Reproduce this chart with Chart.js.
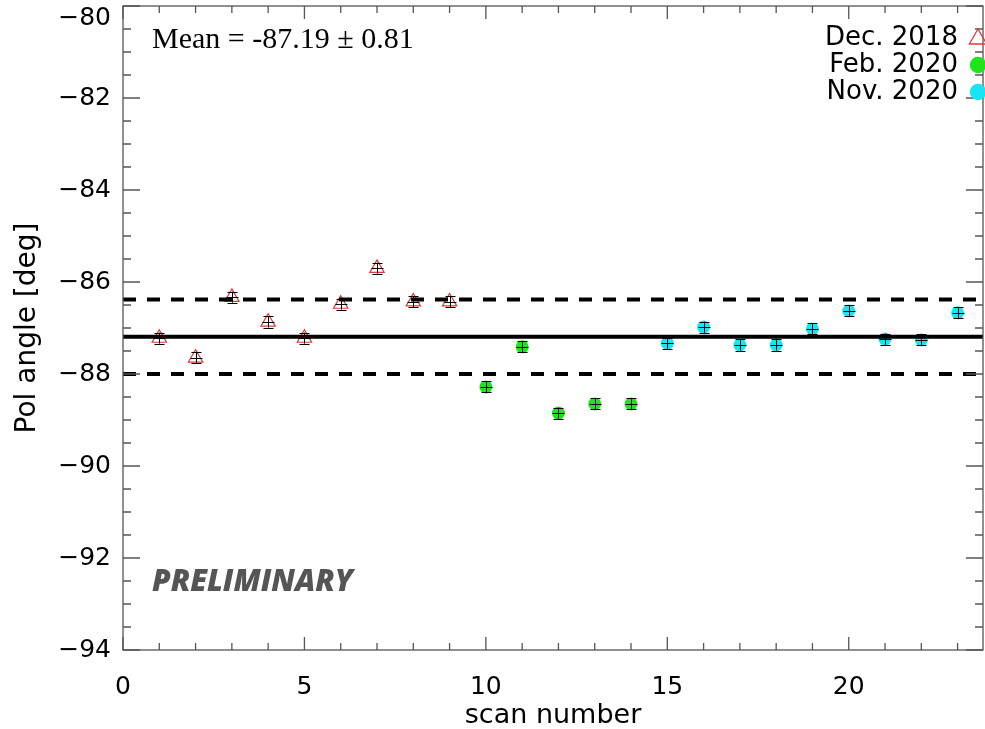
<!DOCTYPE html>
<html><head><meta charset="utf-8">
<script src="https://cdn.jsdelivr.net/npm/chart.js@4"></script>
<style>html,body{margin:0;padding:0;background:#fff}#wrap{width:985px;height:729px}</style>
</head><body><div id="wrap"><canvas id="c" width="985" height="729"></canvas></div>
<script>
// ---- data ----
const DEC_X = [1, 2, 3, 4, 5, 6, 7, 8, 9];
const DEC_Y = [-87.22, -87.65, -86.33, -86.87, -87.22, -86.48, -85.70, -86.43, -86.43];
const DEC_ERR = [0.12, 0.12, 0.12, 0.12, 0.12, 0.12, 0.12, 0.12, 0.12];
const FEB_X = [10, 11, 12, 13, 14];
const FEB_Y = [-88.28, -87.41, -88.85, -88.65, -88.65];
const FEB_ERR = [0.12, 0.12, 0.12, 0.12, 0.12];
const NOV_X = [15, 16, 17, 18, 19, 20, 21, 22, 23];
const NOV_Y = [-87.33, -86.98, -87.37, -87.37, -87.02, -86.63, -87.24, -87.26, -86.67];
const NOV_ERR = [0.12, 0.12, 0.12, 0.12, 0.12, 0.12, 0.12, 0.12, 0.12];
const SERIES_LABELS = ['Dec. 2018', 'Feb. 2020', 'Nov. 2020'];
const MEAN = -87.19;
const SIGMA = 0.81;
const MEAN_TEXT = 'Mean = -87.19 \u00B1 0.81';
const STAMP_TEXT = 'PRELIMINARY';
const X_TITLE = 'scan number';
const Y_TITLE = 'Pol angle [deg]';
const X_RANGE = [0, 23.7];
const Y_RANGE = [-94, -80];
const X_TICK_STEP = 5, X_MINOR_STEP = 1;
const Y_TICK_STEP = 2, Y_MINOR_STEP = 0.5;

const COLORS = { dec: '#e23a3a', feb: '#1ee41a', nov: '#17e5f6', axis: '#555555' };
const TICK_FONT = '25px "DejaVu Sans", sans-serif';

function pts(xs, ys) { return xs.map((x, i) => ({ x: x, y: ys[i] })); }
function fmtY(v) { return (v < 0 ? '\u2212' : '') + Math.abs(v); }

const frameTicks = {
  id: 'frameTicks',
  afterDatasetsDraw(chart) {
    const { ctx, chartArea: a, scales: { x, y } } = chart;
    ctx.save();
    ctx.strokeStyle = COLORS.axis;
    ctx.lineWidth = 1.3;
    ctx.strokeRect(a.left, a.top, a.right - a.left, a.bottom - a.top);
    ctx.beginPath();
    for (let v = X_RANGE[0]; v <= X_RANGE[1] + 1e-9; v += X_MINOR_STEP) {
      const px = x.getPixelForValue(v);
      const len = (Math.abs(v % X_TICK_STEP) < 1e-9) ? 13 : 7;
      ctx.moveTo(px, a.bottom); ctx.lineTo(px, a.bottom - len);
      ctx.moveTo(px, a.top); ctx.lineTo(px, a.top + len);
    }
    for (let v = Y_RANGE[0]; v <= Y_RANGE[1] + 1e-9; v += Y_MINOR_STEP) {
      const py = y.getPixelForValue(v);
      const len = (Math.abs(v % Y_TICK_STEP) < 1e-9) ? 17 : 8;
      ctx.moveTo(a.left, py); ctx.lineTo(a.left + len, py);
      ctx.moveTo(a.right, py); ctx.lineTo(a.right - len, py);
    }
    ctx.stroke();
    // the top y tick label is pushed down so it stays inside the picture
    const topTick = y.ticks.find(t => Math.abs(t.value - Y_RANGE[1]) < 1e-9);
    if (topTick) {
      ctx.fillStyle = '#000';
      ctx.font = TICK_FONT;
      ctx.textAlign = 'right';
      ctx.textBaseline = 'middle';
      ctx.fillText(fmtY(topTick.value), a.left - 12, Math.max(y.getPixelForValue(topTick.value), 18));
    }
    ctx.restore();
  }
};

const errorBars = {
  id: 'errorBars',
  afterDatasetsDraw(chart) {
    const { ctx, scales: { y } } = chart;
    ctx.save();
    ctx.strokeStyle = '#000';
    ctx.lineWidth = 1;
    chart.data.datasets.forEach((ds, i) => {
      if (!ds.err) return;
      const meta = chart.getDatasetMeta(i);
      meta.data.forEach((el, j) => {
        const v = ds.data[j].y, e = ds.err[j];
        const y1 = y.getPixelForValue(v + e), y2 = y.getPixelForValue(v - e);
        const px = Math.round(el.x) + 0.5;
        ctx.beginPath();
        ctx.moveTo(px, y1); ctx.lineTo(px, y2);
        ctx.moveTo(px - 5, Math.round(y1) + 0.5); ctx.lineTo(px + 5, Math.round(y1) + 0.5);
        ctx.moveTo(px - 5, Math.round(y2) + 0.5); ctx.lineTo(px + 5, Math.round(y2) + 0.5);
        ctx.moveTo(px - 6, Math.round(el.y) + 0.5); ctx.lineTo(px + 6, Math.round(el.y) + 0.5);
        ctx.stroke();
      });
    });
    ctx.restore();
  }
};

const annotations = {
  id: 'annotations',
  afterDraw(chart) {
    const { ctx, chartArea: a } = chart;
    ctx.save();
    ctx.fillStyle = '#000';
    ctx.textAlign = 'left';
    ctx.textBaseline = 'alphabetic';
    ctx.font = '30px "Liberation Serif", serif';
    ctx.fillText(MEAN_TEXT, a.left + 29, 48);

    ctx.fillStyle = '#555';
    ctx.font = 'italic 800 30px "Open Sans", sans-serif';
    ctx.fillText(STAMP_TEXT, a.left + 29, 591);

    // legend: text on the left, marker on the right
    ctx.font = '26px "DejaVu Sans", sans-serif';
    ctx.textAlign = 'right';
    ctx.textBaseline = 'middle';
    const rows = [38, 65, 92];
    chart.data.datasets.forEach((ds, i) => {
      if (!ds.legendRow && ds.legendRow !== 0) return;
      const ry = rows[ds.legendRow];
      ctx.fillStyle = '#000';
      ctx.fillText(ds.label, 958, ry);
      ctx.strokeStyle = ds.borderColor;
      ctx.fillStyle = ds.backgroundColor;
      ctx.lineWidth = 1.3;
      Chart.helpers.drawPoint(ctx, {
        pointStyle: ds.pointStyle, radius: ds.pointStyle === 'triangle' ? 10 : 7.5, borderWidth: 1.3, rotation: 0
      }, 978, ry + (ds.pointStyle === 'triangle' ? 1 : 0));
      if (ds.pointStyle !== 'triangle') ctx.fill();
    });
    ctx.restore();
  }
};

new Chart(document.getElementById('c'), {
  type: 'scatter',
  data: {
    datasets: [
      { label: 'mean', type: 'line', data: pts(X_RANGE, [MEAN, MEAN]), borderColor: '#000', borderWidth: 4, pointRadius: 0, fill: false },
      { label: 'mean+sigma', type: 'line', data: pts(X_RANGE, [MEAN + SIGMA, MEAN + SIGMA]), borderColor: '#000', borderWidth: 4, borderDash: [13, 11], pointRadius: 0, fill: false },
      { label: 'mean-sigma', type: 'line', data: pts(X_RANGE, [MEAN - SIGMA, MEAN - SIGMA]), borderColor: '#000', borderWidth: 4, borderDash: [13, 11], pointRadius: 0, fill: false },
      { label: SERIES_LABELS[0], legendRow: 0, data: pts(DEC_X, DEC_Y), err: DEC_ERR, pointStyle: 'triangle', pointRadius: 8.3, borderColor: COLORS.dec, backgroundColor: 'rgba(255,255,255,0)', borderWidth: 1.2 },
      { label: SERIES_LABELS[1], legendRow: 1, data: pts(FEB_X, FEB_Y), err: FEB_ERR, pointStyle: 'circle', pointRadius: 6.5, borderColor: COLORS.feb, backgroundColor: COLORS.feb, borderWidth: 0 },
      { label: SERIES_LABELS[2], legendRow: 2, data: pts(NOV_X, NOV_Y), err: NOV_ERR, pointStyle: 'circle', pointRadius: 6.5, borderColor: COLORS.nov, backgroundColor: COLORS.nov, borderWidth: 0 }
    ]
  },
  options: {
    responsive: false,
    animation: false,
    devicePixelRatio: 1,
    layout: { autoPadding: false, padding: { top: 6, right: 2, left: 0, bottom: 0 } },
    plugins: { legend: { display: false }, tooltip: { enabled: false } },
    scales: {
      x: {
        type: 'linear', min: X_RANGE[0], max: X_RANGE[1],
        afterFit: s => { s.height = 79; s.paddingLeft = 0; s.paddingRight = 0; },
        grid: { display: false, drawTicks: false },
        border: { display: false },
        ticks: { stepSize: X_TICK_STEP, includeBounds: false, padding: 22, color: '#000', font: { family: '"DejaVu Sans", sans-serif', size: 25 }, maxRotation: 0 },
        title: { display: true, text: X_TITLE, color: '#000', font: { family: '"DejaVu Sans", sans-serif', size: 27, lineHeight: 1 }, padding: { top: 0, bottom: 0 } }
      },
      y: {
        type: 'linear', min: Y_RANGE[0], max: Y_RANGE[1],
        afterFit: s => { s.width = 123; s.paddingTop = 0; s.paddingBottom = 0; },
        grid: { display: false, drawTicks: false },
        border: { display: false },
        ticks: { stepSize: Y_TICK_STEP, padding: 12, color: '#000', font: { family: '"DejaVu Sans", sans-serif', size: 25 },
          callback: v => (Math.abs(v - Y_RANGE[1]) < 1e-9 ? '' : fmtY(v)) },
        title: { display: true, text: Y_TITLE, color: '#000', font: { family: '"DejaVu Sans", sans-serif', size: 28, lineHeight: 1 }, padding: { top: 14, bottom: 0 } }
      }
    }
  },
  plugins: [frameTicks, errorBars, annotations]
});
</script></body></html>
